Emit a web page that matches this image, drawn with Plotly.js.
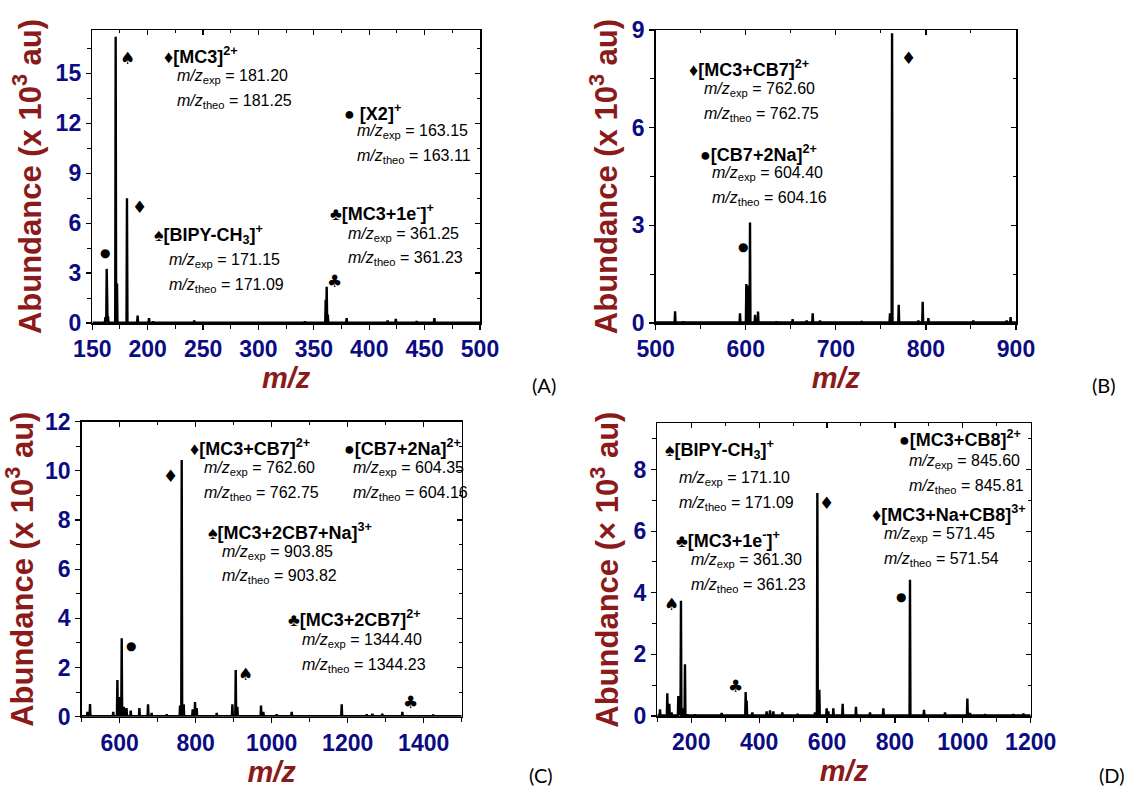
<!DOCTYPE html>
<html><head><meta charset="utf-8">
<script src="https://cdn.plot.ly/plotly-3.0.1.min.js"></script>
<style>html,body{margin:0;padding:0;background:#fff}#chart{width:1131px;height:789px}</style>
</head><body><div id="chart"></div>
<script>
// ---------------- DATA ----------------
// Panel A
const mzA = [161.8, 163.0, 164.2, 171.1, 172.3, 181.3, 190.9, 201.2, 205.0, 242.0, 342.0, 360.7, 361.6, 362.6, 379.6, 397.7, 416.6, 424.0, 442.8, 458.8];
const abA = [0.35, 3.25, 0.4, 17.2, 2.37, 7.5, 0.45, 0.3, 0.1, 0.15, 0.1, 1.4, 2.17, 0.5, 0.3, 0.05, 0.15, 0.25, 0.12, 0.3];
// Panel B
const mzB = [521.5, 530.7, 593.6, 600.6, 602.1, 604.7, 610.3, 613.6, 634, 652, 667.6, 674.3, 682.4, 728.7, 760.1, 762.4, 769.8, 791.6, 796.4, 802.7, 852.6, 889.6, 894];
const abB = [0.36, 0.05, 0.3, 1.2, 1.15, 3.09, 0.25, 0.35, 0.05, 0.12, 0.08, 0.3, 0.08, 0.06, 0.3, 8.9, 0.56, 0.08, 0.65, 0.15, 0.08, 0.08, 0.18];
// Panel C
const mzC = [515, 521.9, 583, 593.9, 599, 605.3, 611, 618, 629, 651.8, 674.6, 684, 723.7, 758.8, 763.2, 768.4, 792, 798.2, 802.6, 855.3, 896.5, 905.3, 909.6, 971.9, 978, 1013, 1052.6, 1184.2, 1250, 1265, 1291, 1343.9, 1425];
const abC = [0.2, 0.52, 0.2, 1.49, 0.8, 3.19, 0.4, 0.35, 0.25, 0.35, 0.5, 0.15, 0.1, 0.45, 10.44, 0.5, 0.3, 0.6, 0.35, 0.15, 0.5, 1.9, 0.4, 0.45, 0.2, 0.1, 0.2, 0.5, 0.1, 0.12, 0.12, 0.2, 0.08];
// Panel D
const mzD = [107.9, 129.5, 135.4, 142, 161.9, 165.8, 169.7, 174.6, 181.5, 188.4, 211, 289.6, 360.3, 363.2, 380, 422, 432, 441.8, 468.3, 513.5, 564.6, 571.5, 577.3, 599, 603.9, 618.6, 646, 685.3, 726.6, 765.9, 844.4, 885.7, 947.6, 1013.4, 1021.2, 1065.5, 1148.9, 1178.4];
const abD = [0.22, 0.74, 0.4, 0.12, 0.65, 0.6, 3.74, 0.25, 1.68, 0.05, 0.05, 0.1, 0.78, 0.5, 0.12, 0.15, 0.18, 0.15, 0.12, 0.07, 0.12, 7.24, 0.85, 0.25, 0.15, 0.25, 0.4, 0.3, 0.12, 0.25, 4.42, 0.2, 0.12, 0.57, 0.1, 0.06, 0.06, 0.08];

// Peak-marker symbols (symbol, m/z, abundance) per panel
const symA = ['♠', '♦', '●', '♣'];
const symA_mz = [181.9, 193.0, 161.4, 368.5];
const symA_ab = [15.9, 6.96, 4.2, 2.5];
const symB = ['♦', '●'];
const symB_mz = [780.5, 596.6];
const symB_ab = [8.15, 2.32];
const symC = ['♦', '●', '♠', '♣'];
const symC_mz = [733.3, 629.8, 930.7, 1364.9];
const symC_ab = [9.79, 2.89, 1.72, 0.58];
const symD = ['♠', '♣', '♦', '●'];
const symD_mz = [142.2, 329.8, 599.0, 817.0];
const symD_ab = [3.64, 0.99, 6.9, 3.85];

// Species labels and m/z values
const namesA = ['♦[MC3]<sup>2+</sup>', '● [X2]<sup>+</sup>', '♠[BIPY-CH<sub>3</sub>]<sup>+</sup>', '♣[MC3+1e<sup>-</sup>]<sup>+</sup>'];
const expA = ['181.20', '163.15', '171.15', '361.25'];
const theoA = ['181.25', '163.11', '171.09', '361.23'];
const namesB = ['♦[MC3+CB7]<sup>2+</sup>', '●[CB7+2Na]<sup>2+</sup>'];
const expB = ['762.60', '604.40'];
const theoB = ['762.75', '604.16'];
const namesC = ['♦[MC3+CB7]<sup>2+</sup>', '●[CB7+2Na]<sup>2+</sup>', '♠[MC3+2CB7+Na]<sup>3+</sup>', '♣[MC3+2CB7]<sup>2+</sup>'];
const expC = ['762.60', '604.35', '903.85', '1344.40'];
const theoC = ['762.75', '604.16', '903.82', '1344.23'];
const namesD = ['♠[BIPY-CH<sub>3</sub>]<sup>+</sup>', '♣[MC3+1e<sup>-</sup>]<sup>+</sup>', '●[MC3+CB8]<sup>2+</sup>', '♦[MC3+Na+CB8]<sup>3+</sup>'];
const expD = ['171.10', '361.30', '845.60', '571.45'];
const theoD = ['171.09', '361.23', '845.81', '571.54'];

const panelTags = ['(A)', '(B)', '(C)', '(D)'];

// ---------------- LAYOUT CONFIG ----------------
const W = 1131, H = 789;
const FONT = "Arial, 'Liberation Sans', Helvetica, sans-serif";
const RED = '#8b1a1a', NAVY = '#0b0b84';

// panel frame in pixels: left, right, top, bottom
const frames = [
  {l: 92.3, r: 480, t: 30, b: 323, xr: [150, 500], yr: [0, 17.6], xd: 50, xm: 25, yd: 3, ym: 1.5, ytitle: 'Abundance (x 10<sup>3</sup> au)'},
  {l: 655.7, r: 1016, t: 30, b: 323, xr: [500, 900], yr: [0, 9], xd: 100, xm: 50, yd: 3, ym: 1.5, ytitle: 'Abundance (x 10<sup>3</sup> au)'},
  {l: 81.7, r: 461.7, t: 421.7, b: 716.7, xr: [500, 1500], yr: [0, 12], xd: 200, xm: 100, yd: 2, ym: 1, ytitle: 'Abundance (x 10<sup>3</sup> au)'},
  {l: 657.3, r: 1030.7, t: 423.3, b: 716, xr: [100, 1200], yr: [0, 9.5], xd: 200, xm: 100, yd: 2, ym: 1, ytitle: 'Abundance (× 10<sup>3</sup> au)'}
];
// label anchors (data coords): [nameX, nameY, valX, expY, theoY]
const labelPos = [
  [[214.1, 16.04, 225.2, 14.8, 13.33], [376.6, 12.63, 388.0, 11.53, 10.03], [205.1, 5.31, 218.0, 3.75, 2.25], [363.7, 6.64, 379.6, 5.3, 3.85]],
  [[536.3, 7.82, 552.2, 7.16, 6.39], [548.5, 5.22, 561.0, 4.6, 3.81]],
  [[782.5, 10.94, 818.4, 10.1, 9.08], [1186.8, 10.94, 1212.3, 10.1, 9.08], [828.9, 7.55, 866.7, 6.67, 5.69], [1039.5, 4.0, 1076.3, 3.12, 2.1]],
  [[120.6, 8.65, 161.9, 7.71, 6.89], [153.0, 5.72, 196.3, 5.04, 4.24], [810.1, 9.0, 839.6, 8.27, 7.46], [729.6, 6.57, 765.9, 5.89, 5.07]]
];
const tagPos = [[544, 385], [1104, 385], [541, 775], [1112, 775]];

const spectra = [[mzA, abA], [mzB, abB], [mzC, abC], [mzD, abD]];
const syms = [[symA, symA_mz, symA_ab], [symB, symB_mz, symB_ab], [symC, symC_mz, symC_ab], [symD, symD_mz, symD_ab]];
const labels = [[namesA, expA, theoA], [namesB, expB, theoB], [namesC, expC, theoC], [namesD, expD, theoD]];

function stick(mz, ab, xr) {
  const w = (xr[1] - xr[0]) * 0.0012;
  const xs = [xr[0]], ys = [0.02];
  mz.forEach((m, i) => { xs.push(m - w, m, m + w); ys.push(0.02, ab[i], 0.02); });
  xs.push(xr[1]); ys.push(0.02);
  return {xs, ys};
}

const data = [];
const layout = {
  width: W, height: H,
  margin: {l: 0, r: 0, t: 0, b: 0},
  paper_bgcolor: '#fff', plot_bgcolor: 'rgba(0,0,0,0)',
  showlegend: false,
  font: {family: FONT, color: '#000'},
  annotations: []
};

frames.forEach((f, k) => {
  const n = k + 1;
  const xa = n === 1 ? 'x' : 'x' + n, ya = n === 1 ? 'y' : 'y' + n;
  const xkey = n === 1 ? 'xaxis' : 'xaxis' + n, ykey = n === 1 ? 'yaxis' : 'yaxis' + n;
  const s = stick(spectra[k][0], spectra[k][1], f.xr);
  data.push({type: 'scatter', mode: 'lines', x: s.xs, y: s.ys, xaxis: xa, yaxis: ya,
    line: {color: '#000', width: 2.4}, hoverinfo: 'skip'});
  const xdom = [f.l / W, f.r / W], ydom = [1 - f.b / H, 1 - f.t / H];
  layout[xkey] = {
    domain: xdom, anchor: ya, range: f.xr, tick0: 0, dtick: f.xd,
    showline: true, linecolor: '#000', linewidth: 1.5, mirror: true,
    ticks: 'outside', ticklen: 5, tickwidth: 1.2, tickcolor: '#000',
    minor: {ticks: 'outside', ticklen: 4, tickwidth: 1, tickcolor: '#000', dtick: f.xm, tick0: 0},
    showgrid: false, zeroline: false, automargin: false, fixedrange: true,
    tickfont: {family: FONT, size: 23, color: NAVY, weight: 'bold'},
    title: {text: '<i>m/z</i>', standoff: 2, font: {family: FONT, size: 29, color: RED, weight: 'bold'}}
  };
  layout[ykey] = {
    domain: ydom, anchor: xa, range: f.yr, tick0: 0, dtick: f.yd,
    showline: true, linecolor: '#000', linewidth: 1.5, mirror: true,
    ticks: 'outside', ticklen: 5, tickwidth: 1.2, tickcolor: '#000',
    minor: {ticks: 'outside', ticklen: 4, tickwidth: 1, tickcolor: '#000', dtick: f.ym, tick0: 0},
    showgrid: false, zeroline: false, automargin: false, fixedrange: true,
    tickfont: {family: FONT, size: 23, color: NAVY, weight: 'bold'},
    title: {text: f.ytitle, standoff: 5, font: {family: FONT, size: 31, color: RED, weight: 'bold'}}
  };
  // inward mirrored ticks on top/right
  const tx = 'xaxis' + (n + 4), ty = 'yaxis' + (n + 4);
  layout[tx] = {overlaying: xa, anchor: 'y' + (n + 4), side: 'top', range: f.xr, tick0: 0, dtick: f.xd, domain: xdom,
    ticks: 'inside', ticklen: 5, tickwidth: 1.2, tickcolor: '#000', showticklabels: false,
    minor: {ticks: 'inside', ticklen: 3, tickwidth: 1, tickcolor: '#000', dtick: f.xm, tick0: 0},
    showline: false, showgrid: false, zeroline: false, fixedrange: true};
  layout[ty] = {overlaying: ya, anchor: 'x' + (n + 4), side: 'right', range: f.yr, tick0: 0, dtick: f.yd, domain: ydom,
    ticks: 'inside', ticklen: 5, tickwidth: 1.2, tickcolor: '#000', showticklabels: false,
    minor: {ticks: 'inside', ticklen: 3, tickwidth: 1, tickcolor: '#000', dtick: f.ym, tick0: 0},
    showline: false, showgrid: false, zeroline: false, fixedrange: true};
  data.push({type: 'scatter', mode: 'none', x: [f.xr[0]], y: [f.yr[0]], xaxis: 'x' + (n + 4), yaxis: 'y' + (n + 4), hoverinfo: 'skip'});

  // peak symbols
  const sy = syms[k];
  sy[0].forEach((g, i) => {
    layout.annotations.push({xref: xa, yref: ya, x: sy[1][i], y: sy[2][i], text: g, showarrow: false,
      xanchor: 'center', yanchor: 'middle',
      font: {family: "'DejaVu Sans', sans-serif", size: g === '●' ? 12 : 17, color: '#000'}});
  });
  // species labels
  const lb = labels[k];
  lb[0].forEach((name, i) => {
    const p = labelPos[k][i];
    layout.annotations.push({xref: xa, yref: ya, x: p[0], y: p[1], text: '<b>' + name + '</b>', showarrow: false,
      xanchor: 'left', yanchor: 'middle', borderpad: 0, font: {family: FONT, size: 18, color: '#000'}});
    layout.annotations.push({xref: xa, yref: ya, x: p[2], y: p[3], text: '<i>m/z</i><sub>exp</sub> = ' + lb[1][i], showarrow: false,
      xanchor: 'left', yanchor: 'middle', borderpad: 0, font: {family: FONT, size: 16, color: '#000'}});
    layout.annotations.push({xref: xa, yref: ya, x: p[2], y: p[4], text: '<i>m/z</i><sub>theo</sub> = ' + lb[2][i], showarrow: false,
      xanchor: 'left', yanchor: 'middle', borderpad: 0, font: {family: FONT, size: 16, color: '#000'}});
  });
  layout.annotations.push({xref: 'paper', yref: 'paper', x: tagPos[k][0] / W, y: 1 - tagPos[k][1] / H,
    text: panelTags[k], showarrow: false, xanchor: 'center', yanchor: 'middle', borderpad: 0,
    font: {family: "Lato, 'Open Sans', sans-serif", size: 20, color: '#000'}});
});

Plotly.newPlot('chart', data, layout, {displayModeBar: false, staticPlot: true});
</script>
</body></html>
